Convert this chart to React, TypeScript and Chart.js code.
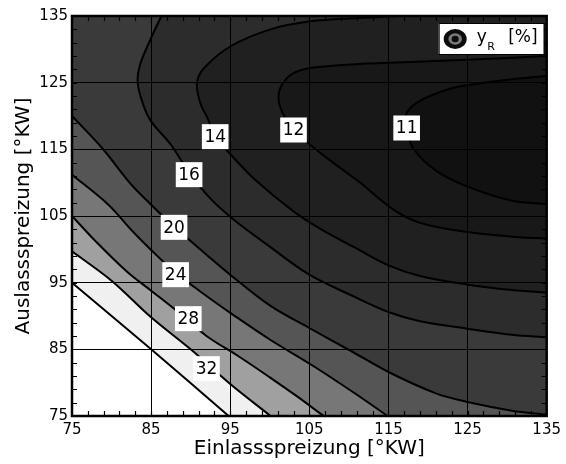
import React, { useEffect, useRef } from 'react';
import { Chart, registerables } from 'chart.js';

Chart.register(...registerables);

const X_MIN = 75;
const X_MAX = 135;
const Y_MIN = 75;
const Y_MAX = 135;
const xTicks = [75, 85, 95, 105, 115, 125, 135];
const yTicks = [75, 85, 95, 105, 115, 125, 135];

const xTitle = 'Einlassspreizung [°KW]';
const yTitle = 'Auslassspreizung [°KW]';

// contour levels of y_R [%] (region "value < level" lies towards the upper right)
const levels = [36, 32, 28, 24, 20, 16, 14, 12, 11];
const bandColors = ['#f0f0f0', '#a0a0a0', '#777777', '#555555', '#3a3a3a', '#2c2c2c', '#202020', '#181818', '#111111'];

// contour lines (x = Einlassspreizung, y = Auslassspreizung)
const c36x = [75, 85, 94.8];
const c36y = [95, 85, 75];
const c32x = [75, 80, 85, 90, 95, 100.1];
const c32y = [99.7, 95.3, 89.8, 85.0, 79.8, 75];
const c28x = [75, 78, 82, 85, 88, 92, 96, 100, 103.5, 106.8];
const c28y = [105, 101.2, 96.6, 93.8, 91.0, 87.0, 84.0, 80.8, 77.9, 75];
const c24x = [75, 79.6, 82.5, 85, 88, 92, 95.1, 100.1, 105.1, 110.5, 114.9];
const c24y = [111.2, 106.7, 102.9, 99.9, 96.6, 93.0, 90.4, 86.4, 82.8, 78.6, 75];
const c20x = [75, 78.8, 82.5, 85, 88, 92, 95, 100, 105, 110.5, 115, 121, 125, 130.6, 135];
const c20y = [120, 115.2, 109.7, 106.7, 103.3, 99.2, 96.2, 91.6, 88.2, 84.6, 81.6, 78.4, 77.1, 75.8, 75.2];
const c16x = [86.3, 85, 83.6, 83.3, 84, 85, 87.5, 89.8, 92.5, 95.5, 100, 105, 110.5, 115, 119, 125, 130.6, 135];
const c16y = [135, 131.7, 127.7, 125, 121.7, 119.2, 115.7, 111.5, 107.6, 104.4, 100.4, 96.2, 93.0, 90.6, 89.2, 88.1, 87.2, 86.8];
const c14x = [116, 111.2, 105.1, 100.1, 95.1, 91.7, 90.8, 91.2, 92.2, 93.1, 95, 98, 103, 106.5, 111, 115, 119, 125, 130.6, 135];
const c14y = [135, 134.7, 134.2, 133, 130.5, 127.2, 125, 122, 119.5, 116.9, 114.3, 110.6, 105.7, 103, 100.1, 97.6, 96, 94.7, 93.9, 93.5];
const c12x = [135, 130, 120, 111.2, 105.1, 102.8, 101.5, 101.1, 101.6, 103, 105.1, 108, 111.2, 115.6, 118.9, 124.3, 130.6, 135];
const c12y = [129, 128.7, 128.2, 127.8, 127.2, 126.3, 124.6, 122.7, 120.5, 117.9, 115.7, 113, 110.2, 106, 104, 102.7, 101.9, 101.6];
const c11x = [135, 130.6, 126, 123.1, 119.5, 117.6, 117.1, 117.3, 118.1, 121, 125, 130.6, 135];
const c11y = [126, 125.5, 124.8, 124.2, 122.6, 121, 119.5, 118.2, 115.2, 111.8, 109.4, 107.3, 106.8];

const contourXs = [c36x, c32x, c28x, c24x, c20x, c16x, c14x, c12x, c11x];
const contourYs = [c36y, c32y, c28y, c24y, c20y, c16y, c14y, c12y, c11y];

// inline contour labels
const labelText = ['32', '28', '24', '20', '16', '14', '12', '11'];
const labelX = [92, 89.7, 88.1, 87.9, 89.8, 93.1, 103, 117.3];
const labelY = [82.1, 89.6, 96.2, 103.3, 111.2, 116.9, 117.9, 118.2];

const FONT = '"DejaVu Sans", Verdana, sans-serif';
const TENSION = 0.35;

type P = { x: number; y: number };

// perimeter parameter, counter-clockwise in data space
function perim(p: P): number {
  const eps = 1e-6;
  if (Math.abs(p.y - Y_MIN) < eps) return p.x - X_MIN;
  if (Math.abs(p.x - X_MAX) < eps) return (X_MAX - X_MIN) + (p.y - Y_MIN);
  if (Math.abs(p.y - Y_MAX) < eps) return (X_MAX - X_MIN) + (Y_MAX - Y_MIN) + (X_MAX - p.x);
  return 2 * (X_MAX - X_MIN) + (Y_MAX - Y_MIN) + (Y_MAX - p.y);
}

function closure(start: P, end: P): P[] {
  const W = X_MAX - X_MIN;
  const H = Y_MAX - Y_MIN;
  const total = 2 * (W + H);
  const corners: [number, P][] = [
    [W, { x: X_MAX, y: Y_MIN }],
    [W + H, { x: X_MAX, y: Y_MAX }],
    [2 * W + H, { x: X_MIN, y: Y_MAX }],
    [total, { x: X_MIN, y: Y_MIN }],
  ];
  const sEnd = perim(end);
  let sStart = perim(start);
  if (sStart <= sEnd) sStart += total;
  const out: P[] = [];
  for (const [s0, c] of corners) {
    for (const s of [s0, s0 + total]) {
      if (s > sEnd && s < sStart) out.push(c);
    }
  }
  return out;
}

const overlayPlugin = {
  id: 'overlay',
  afterDraw(chart: any) {
    const { ctx, chartArea: a, scales } = chart;
    const xs = scales.x;
    const ys = scales.y;
    ctx.save();
    // minor ticks (inward)
    ctx.strokeStyle = '#000';
    ctx.lineWidth = 1.2;
    ctx.beginPath();
    for (let v = X_MIN + 2; v < X_MAX; v += 2) {
      const px = Math.round(xs.getPixelForValue(v)) + 0.5;
      ctx.moveTo(px, a.bottom);
      ctx.lineTo(px, a.bottom - 5);
      ctx.moveTo(px, a.top);
      ctx.lineTo(px, a.top + 5);
    }
    for (let v = Y_MIN + 2; v < Y_MAX; v += 2) {
      const py = Math.round(ys.getPixelForValue(v)) + 0.5;
      ctx.moveTo(a.left, py);
      ctx.lineTo(a.left + 5, py);
      ctx.moveTo(a.right, py);
      ctx.lineTo(a.right - 5, py);
    }
    ctx.stroke();
    // frame
    ctx.lineWidth = 2.5;
    ctx.strokeRect(a.left, a.top, a.right - a.left, a.bottom - a.top);

    // contour labels
    ctx.font = `17px ${FONT}`;
    ctx.textAlign = 'center';
    ctx.textBaseline = 'middle';
    for (let i = 0; i < labelText.length; i++) {
      const px = xs.getPixelForValue(labelX[i]);
      const py = ys.getPixelForValue(labelY[i]);
      const w = ctx.measureText(labelText[i]).width + 5;
      const h = 25;
      ctx.fillStyle = '#ffffff';
      ctx.fillRect(px - w / 2, py - h / 2, w, h);
      ctx.fillStyle = '#000000';
      ctx.fillText(labelText[i], px, py + 1);
    }

    // legend
    const bx = a.right - 108;
    const by = a.top + 7;
    const bw = 105;
    const bh = 31;
    ctx.fillStyle = '#ffffff';
    ctx.fillRect(bx, by, bw, bh);
    ctx.strokeStyle = '#000';
    ctx.lineWidth = 1;
    ctx.strokeRect(bx + 0.5, by + 0.5, bw, bh);
    const cx = bx + 16.5;
    const cy = by + 16;
    const ell = (rx: number, ry: number, col: string) => {
      ctx.beginPath();
      ctx.ellipse(cx, cy, rx, ry, 0, 0, Math.PI * 2);
      ctx.fillStyle = col;
      ctx.fill();
    };
    ell(11.5, 10, '#0c0c0c');
    ell(6.8, 5.8, '#7a7a7a');
    ell(3.5, 3.2, '#0c0c0c');
    ctx.fillStyle = '#000';
    ctx.textAlign = 'left';
    ctx.textBaseline = 'alphabetic';
    ctx.font = `17px ${FONT}`;
    ctx.fillText('y', bx + 38, by + 19);
    ctx.font = `11px ${FONT}`;
    ctx.fillText('R', bx + 48.5, by + 27);
    ctx.font = `17px ${FONT}`;
    ctx.fillText('[%]', bx + 69.5, by + 19);
    ctx.restore();
  },
};

export default function App() {
  const canvasRef = useRef<HTMLCanvasElement | null>(null);

  useEffect(() => {
    document.body.style.margin = '0';
    const canvas = canvasRef.current;
    if (!canvas) return;

    const datasets: any[] = [];
    for (let i = 0; i < levels.length; i++) {
      const pts: P[] = contourXs[i].map((x, k) => ({ x, y: contourYs[i][k] }));
      const last = pts[pts.length - 1];
      const poly = [...pts, { ...last }, ...closure(pts[0], last)];
      datasets.push({
        label: `fill ${levels[i]}`,
        data: poly,
        fill: 'shape',
        backgroundColor: bandColors[i],
        borderWidth: 0,
        pointRadius: 0,
        tension: TENSION,
        order: 30 - i,
      });
    }
    for (let i = 0; i < levels.length; i++) {
      const pts: P[] = contourXs[i].map((x, k) => ({ x, y: contourYs[i][k] }));
      datasets.push({
        label: `${levels[i]}`,
        data: pts,
        fill: false,
        borderColor: '#000000',
        borderWidth: 2,
        pointRadius: 0,
        tension: TENSION,
        order: 1,
      });
    }

    Chart.defaults.font.family = FONT;

    const chart = new Chart(canvas, {
      type: 'line',
      data: { datasets },
      options: {
        animation: false,
        responsive: true,
        maintainAspectRatio: false,
        layout: { padding: { left: 0, right: 16, top: 16, bottom: 0 } },
        plugins: {
          legend: { display: false },
          tooltip: { enabled: false },
          filler: { propagate: false },
        },
        elements: { point: { radius: 0 } },
        scales: {
          x: {
            type: 'linear',
            position: 'bottom',
            min: X_MIN,
            max: X_MAX,
            afterBuildTicks: (s: any) => {
              s.ticks = xTicks.map((v) => ({ value: v }));
            },
            ticks: { color: '#000', font: { size: 15 }, padding: 5, maxRotation: 0, autoSkip: false, z: 2 },
            grid: { color: '#000', lineWidth: 1, drawTicks: false, z: 1 },
            border: { display: false },
            title: {
              display: true,
              text: xTitle,
              color: '#000',
              font: { size: 20 },
              padding: { top: 0, bottom: 3 },
            },
            afterFit: (s: any) => {
              s.height = 48;
            },
          },
          y: {
            type: 'linear',
            position: 'left',
            min: Y_MIN,
            max: Y_MAX,
            afterBuildTicks: (s: any) => {
              s.ticks = yTicks.map((v) => ({ value: v }));
            },
            ticks: { color: '#000', font: { size: 15 }, padding: 4, autoSkip: false, z: 2 },
            grid: { color: '#000', lineWidth: 1, drawTicks: false, z: 1 },
            border: { display: false },
            title: {
              display: true,
              text: yTitle,
              color: '#000',
              font: { size: 20 },
              padding: { top: 12, bottom: 0 },
            },
            afterFit: (s: any) => {
              s.width = 72;
            },
          },
        },
      },
      plugins: [overlayPlugin],
    } as any);

    return () => {
      chart.destroy();
    };
  }, []);

  return (
    <div style={{ position: 'relative', width: '566px', height: '464px' }}>
      <canvas ref={canvasRef} />
    </div>
  );
}
